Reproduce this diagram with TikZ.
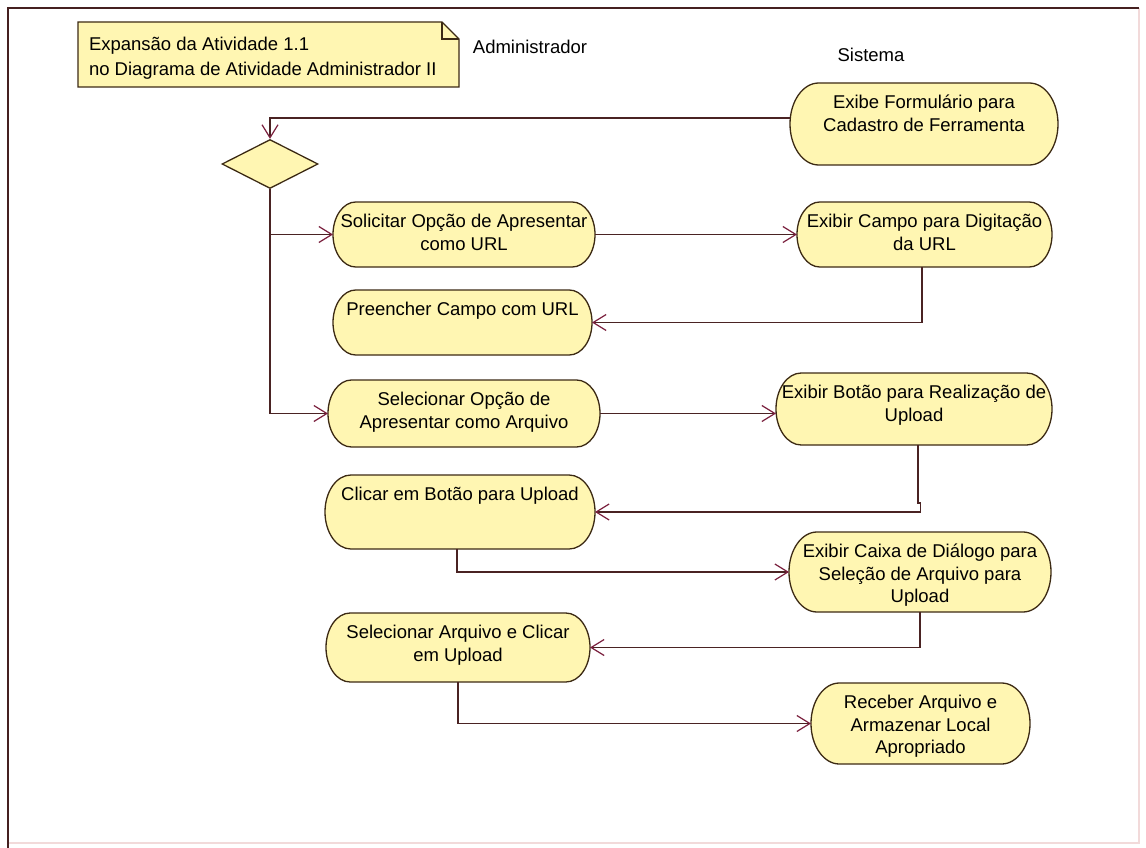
\documentclass[tikz,border=0pt]{standalone}
\usepackage{fontspec}
\setmainfont{Liberation Sans}
\usetikzlibrary{arrows.meta,calc,shapes.geometric}

\definecolor{lineC}{HTML}{4A2323}
\definecolor{arrowC}{HTML}{7A1F3D}
\definecolor{borderC}{HTML}{3C2A14}
\definecolor{fillC}{HTML}{FFF6B2}
\definecolor{frameC}{HTML}{452020}
\definecolor{frameLight}{HTML}{F2DADA}

\pgfdeclarelayer{background}
\pgfsetlayers{background,main}

% activity text: box of width #1 and height #2, lines centred, set from the top
\newcommand\actlines[3]{\vbox to #2pt{\vskip 10pt\hbox to #1pt{\hss\begin{tabular}{@{}c@{}}#3\end{tabular}\hss}\vfil}}

\tikzset{
  act/.style={shape=rectangle, inner sep=0pt, outer sep=0pt, text=black,
    font=\fontsize{18.5}{22.5}\selectfont},
  actshape/.style={draw=borderC, fill=fillC, line width=1.3pt},
  decision/.style={diamond, draw=borderC, fill=fillC, line width=1.3pt,
    minimum width=96pt, minimum height=49pt, inner sep=0pt},
  notebox/.style={shape=rectangle, inner sep=0pt, outer sep=0pt, text=black,
    font=\fontsize{18.5}{25}\selectfont},
  notefill/.style={draw=borderC, fill=fillC, line width=1.3pt},
  noteline/.style={draw=borderC, line width=1.3pt},
  lbl/.style={inner sep=0pt, text=black, font=\fontsize{18.5}{22.5}\selectfont},
  flow/.style={draw=lineC, line width=1.7pt,
    -{Straight Barb[length=13pt, width=16pt, line width=1.2pt, color=arrowC]}},
}

\begin{document}
\begin{tikzpicture}[x=1pt, y=1pt]
  % canvas
  \begin{pgfonlayer}{background}
    \fill[white] (0,0) rectangle (1146,-848);
  \end{pgfonlayer}
  \useasboundingbox (0,0) rectangle (1146,-848);

  % diagram frame
  \draw[frameLight, line width=1.2pt] (1139,-8) -- (1139,-843) -- (8,-843);
  \draw[frameC, line width=1.6pt] (8,-848) -- (8,-8) -- (1139,-8);

  % note
  \node[notebox, anchor=north west] (nota) at (78,-22)
    {\vbox to 65pt{\vskip 11pt\hbox to 381pt{\hskip 11pt\begin{tabular}{@{}l@{}}Expansão da Atividade 1.1\\no Diagrama de Atividade Administrador II\end{tabular}\hss}\vfil}};

  % swimlane titles
  \node[lbl] (admin) at (530,-47) {Administrador};
  \node[lbl] (sis) at (871,-55) {Sistema};

  % decision
  \node[decision] (dec) at (270,-164) {};

  % activities
  \node[act] (exibe) at (924,-124)
    {\actlines{268}{82}{Exibe Formulário para\\Cadastro de Ferramenta}};
  \node[act] (solicitar) at (464,-234.5)
    {\actlines{262}{65}{Solicitar Opção de Apresentar\\como URL}};
  \node[act] (campo) at (924.5,-234.5)
    {\actlines{255}{65}{Exibir Campo para Digitação\\da URL}};
  \node[act] (preencher) at (462.5,-322.5)
    {\actlines{259}{65}{Preencher Campo com URL}};
  \node[act] (selopc) at (464,-413.5)
    {\actlines{272}{67}{Selecionar Opção de\\Apresentar como Arquivo}};
  \node[act] (botao) at (914,-409)
    {\actlines{276}{72}{Exibir Botão para Realização de\\Upload}};
  \node[act] (clicar) at (460,-512)
    {\actlines{270}{74}{Clicar em Botão para Upload}};
  \node[act] (caixa) at (920,-572)
    {\actlines{262}{80}{Exibir Caixa de Diálogo para\\Seleção de Arquivo para\\Upload}};
  \node[act] (selarq) at (458,-647.5)
    {\actlines{264}{69}{Selecionar Arquivo e Clicar\\em Upload}};
  \node[act] (receber) at (920.5,-723.5)
    {\actlines{219}{81}{Receber Arquivo e\\Armazenar Local\\Apropriado}};

  % shapes behind the texts: straight top and bottom, half-ellipse ends
  \begin{pgfonlayer}{background}
    \foreach \nm in {exibe,solicitar,campo,preencher,selopc,botao,clicar,caixa,selarq,receber}{
      \path[actshape] let \p1=(\nm.north west), \p2=(\nm.south east),
          \n1={(\y1-\y2)/2}, \n2={0.7*(\y1-\y2)/2} in
        (\x1+\n2,\y1) -- (\x2-\n2,\y1)
        arc[start angle=90, end angle=-90, x radius=\n2, y radius=\n1]
        -- (\x1+\n2,\y2)
        arc[start angle=270, end angle=90, x radius=\n2, y radius=\n1] -- cycle;
    }
    \path[notefill] (nota.north west) -- ($(nota.north east)+(-17pt,0)$)
      -- ($(nota.north east)+(0,-17pt)$) -- (nota.south east) -- (nota.south west) -- cycle;
  \end{pgfonlayer}
  \draw[noteline] ($(nota.north east)+(-17pt,0)$) -- ($(nota.north east)+(-17pt,-17pt)$)
    -- ($(nota.north east)+(0,-17pt)$);

  % control flows
  \draw[flow] ($(exibe.west)+(0,6)$) -| (dec.north);
  \draw[flow] (dec.south) |- (solicitar.west);
  \draw[flow] (dec.south) |- (selopc.west);
  \draw[flow] (solicitar.east) -- (campo.west);
  \draw[flow] ($(campo.south)+(-2.5,0)$) |- (preencher.east);
  \draw[flow] (selopc.east) -- (selopc.east -| botao.west);
  \draw[flow] ($(botao.south)+(4,0)$) -- ++(0,-58) -- ++(2.5,0) |- (clicar.east);
  \draw[flow] ($(clicar.south)+(-3,0)$) |- (caixa.west);
  \draw[flow] (caixa.south) |- (selarq.east);
  \draw[flow] (selarq.south) |- (receber.west);
\end{tikzpicture}
\end{document}
